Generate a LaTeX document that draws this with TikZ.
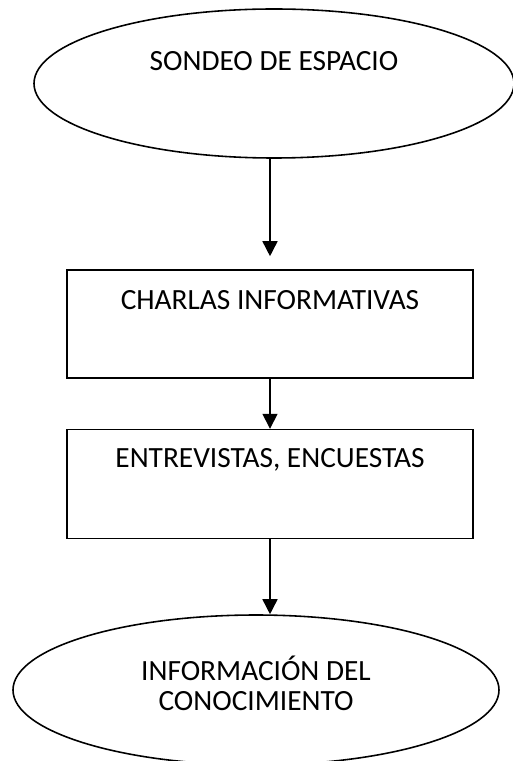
\documentclass[tikz,border=0pt]{standalone}
\usepackage{fontspec}
\setmainfont{Carlito}
\usepackage{tikz}
\usetikzlibrary{positioning, shapes, arrows.meta}

\begin{document}
\begin{tikzpicture}[
            ellip/.style={ellipse, draw, line width=0.9pt, inner sep=0pt},
            caja/.style={rectangle, draw, line width=0.9pt, inner sep=0pt, minimum width=8.12cm},
            flecha/.style={-{Triangle[length=0.3cm, width=0.3cm]}, line width=0.9pt},
            texto/.style={font=\fontsize{16.7}{17}\selectfont, align=center},
        ]
            \useasboundingbox (0,0) rectangle (10.24,-15.22);
            \node[ellip, minimum width=9.6cm, minimum height=2.98cm,
                label={[texto, yshift=0.45cm]center:SONDEO DE ESPACIO}] (sondeo) at (5.48,-1.67) {};
            \node[caja, minimum height=2.16cm,
                label={[texto, yshift=0.48cm]center:CHARLAS INFORMATIVAS}] (charlas) at (5.4,-6.48) {};
            \node[caja, minimum height=2.18cm, below=1cm of charlas,
                label={[texto, yshift=0.49cm]center:ENTREVISTAS, ENCUESTAS}] (entrevistas) {};
            \node[ellip, minimum width=9.72cm, minimum height=3cm,
                label={[texto, yshift=0.14cm]center:INFORMACIÓN DEL\\CONOCIMIENTO}] (conocimiento) at (5.12,-13.8) {};

            \draw[flecha, shorten >=0.26cm] (charlas.north |- sondeo.south) -- (charlas.north);
            \draw[flecha] (charlas) -- (entrevistas);
            \draw[flecha] (entrevistas.south) -- (entrevistas.south |- conocimiento.north);
        \end{tikzpicture}
\end{document}
